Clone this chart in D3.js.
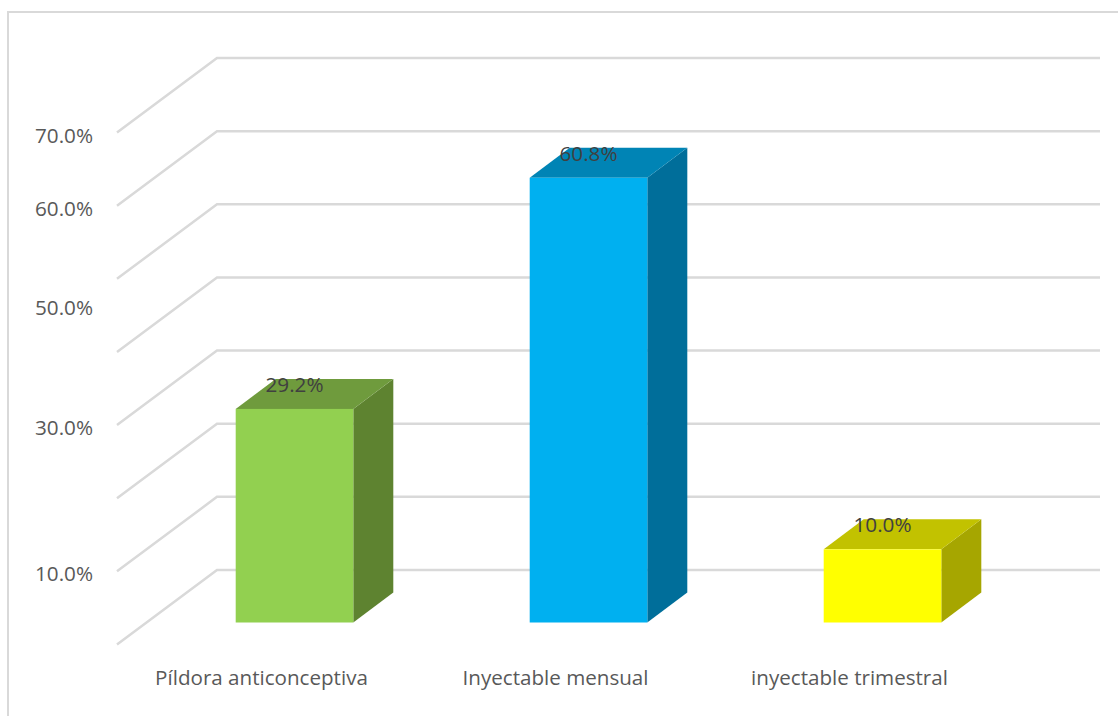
<!DOCTYPE html>
<html>
<head>
<meta charset="utf-8">
<script src="https://cdn.jsdelivr.net/npm/d3@7/dist/d3.min.js"></script>
<style>
  html, body { margin: 0; padding: 0; background: #fff; }
  svg { display: block; }
  text { font-family: "Open Sans", sans-serif; }
</style>
</head>
<body>
<script>
// Contraceptive method shares, drawn as a pseudo-3D column chart.
const categories = ["Píldora anticonceptiva", "Inyectable mensual", "inyectable trimestral"];
const values = [29.2, 60.8, 10.0];
const gridValues = [0, 10, 20, 30, 40, 50, 60, 70];
const tickValues = [70, 60, 50, 30, 10];
const frontColors = ["#92D050", "#00B0F0", "#FFFF00"];
const topColors = ["#6F9B3D", "#0084B5", "#C2C200"];
const sideColors = ["#5E8330", "#006E9A", "#A6A600"];

const width = 1118, height = 716;
const svg = d3.select("body").append("svg").attr("width", width).attr("height", height);

// Value scale for the back wall; the wall's front edge is shifted by wallDx/wallDy.
const yBack = d3.scaleLinear().domain([0, 70]).range([570, 58]);
const wallDx = -100, wallDy = 74.5;
const backLeft = 217, backRight = 1100;

// Columns stand on a floor plane between the wall and the front edge.
const floorY = 622.5;
const unit = yBack(0) - yBack(1);
const barHeight = d3.scaleLinear().domain([0, 70]).range([0, 70 * unit]);
const depthX = 40, depthY = -30;

const x = d3.scaleBand().domain(categories).range([147.5, 1029.5]).paddingInner(0.6).paddingOuter(0.3);
const xCenter = d => x(d) + x.bandwidth() / 2;

// Chart area frame: only the top and left edges are visible.
svg.append("path")
  .attr("d", "M8,716V12H1118")
  .attr("fill", "none").attr("stroke", "#D9D9D9").attr("stroke-width", 2);

// Gridlines: slanted side-wall segment plus the horizontal back-wall segment.
svg.append("g").selectAll("path").data(gridValues).join("path")
  .attr("d", d => {
    const yb = yBack(d);
    return d3.line()([[backLeft + wallDx, yb + wallDy], [backLeft, yb], [backRight, yb]]);
  })
  .attr("fill", "none").attr("stroke", "#D9D9D9").attr("stroke-width", 2.5);

// Value axis labels. The 50.0% label sits lower than its gridline.
const tickNudge = { 50: 26 };
svg.append("g").selectAll("text").data(tickValues).join("text")
  .attr("x", 64)
  .attr("y", d => yBack(d) + wallDy + 10 + (tickNudge[d] || 0))
  .attr("text-anchor", "middle")
  .attr("font-size", 20.7)
  .attr("fill", "#595959")
  .text(d => d3.format(".1f")(d) + "%");

// Each column is three faces: side, top, front.
const bars = svg.append("g").selectAll("g").data(categories).join("g");
const poly = pts => d3.line()(pts) + "Z";

bars.append("path").attr("fill", (d, i) => sideColors[i]).attr("d", (d, i) => {
  const r = x(d) + x.bandwidth(), t = floorY - barHeight(values[i]);
  return poly([[r, t], [r + depthX, t + depthY], [r + depthX, floorY + depthY], [r, floorY]]);
});
bars.append("path").attr("fill", (d, i) => topColors[i]).attr("d", (d, i) => {
  const l = x(d), r = l + x.bandwidth(), t = floorY - barHeight(values[i]);
  return poly([[l, t], [l + depthX, t + depthY], [r + depthX, t + depthY], [r, t]]);
});
bars.append("rect").attr("fill", (d, i) => frontColors[i])
  .attr("x", d => x(d))
  .attr("y", (d, i) => floorY - barHeight(values[i]))
  .attr("width", x.bandwidth())
  .attr("height", (d, i) => barHeight(values[i]));

// Value labels overlap the top face of each column.
bars.append("text")
  .attr("x", d => xCenter(d))
  .attr("y", (d, i) => floorY - barHeight(values[i]) - 17)
  .attr("text-anchor", "middle")
  .attr("font-size", 20.7)
  .attr("fill", "#404040")
  .text((d, i) => d3.format(".1f")(values[i]) + "%");

// Category labels.
svg.append("g").selectAll("text").data(categories).join("text")
  .attr("x", (d, i) => xCenter(d) - 33)
  .attr("y", 685)
  .attr("text-anchor", "middle")
  .attr("font-size", 20.6)
  .attr("fill", "#595959")
  .text(d => d);
</script>
</body>
</html>
